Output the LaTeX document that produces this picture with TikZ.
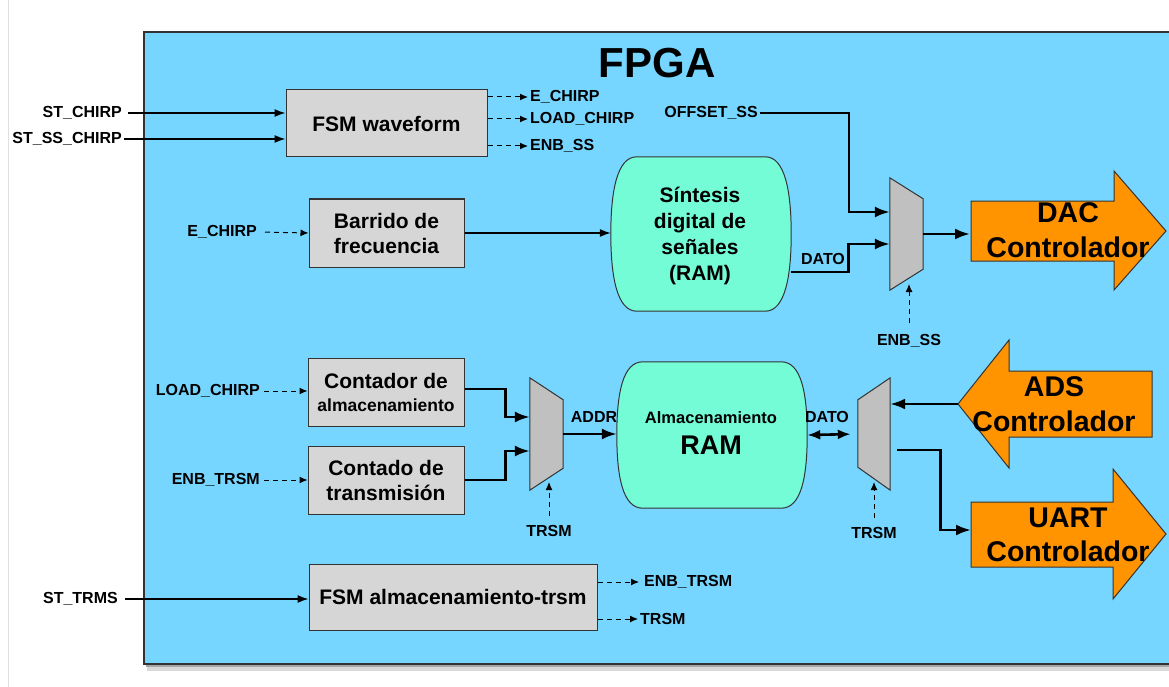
\documentclass[tikz,border=0pt]{standalone}
\usepackage{fontspec}
\setmainfont{Liberation Sans}
\usepackage{tikz}
\usetikzlibrary{positioning, calc, arrows.meta}
\definecolor{sky}{HTML}{76D6FF}
\definecolor{spindrift}{HTML}{73FCD6}
\definecolor{tangerine}{HTML}{FF9300}
\definecolor{boxgray}{HTML}{D6D6D6}
\definecolor{muxgray}{HTML}{C0C0C0}
\definecolor{edge}{HTML}{333333}
\tikzset{
  blk/.style={draw=edge, line width=1pt, fill=boxgray, minimum width=156, minimum height=68,
    align=center, font=\fontsize{21}{25}\selectfont\bfseries},
  lbl/.style={inner sep=2pt, font=\fontsize{16}{18}\selectfont\bfseries},
  sig/.style={-{Latex[length=11pt,width=8pt]}, line width=1.3pt},
  bus/.style={-{Latex[length=15pt,width=11pt]}, line width=2.6pt},
  ctl/.style={-{Latex[length=8pt,width=7pt]}, line width=1pt, dash pattern=on 5pt off 4pt},
  mux/.style={minimum width=33, minimum height=112, inner sep=0pt},
  muxbody/.style={draw=edge, line width=1pt, fill=muxgray},
  ram/.style={inner sep=0pt},
  bigarrow/.style={draw=edge, line width=1pt, fill=tangerine},
  ctrltext/.style={align=center, font=\fontsize{28.5}{34.5}\selectfont\bfseries}
}

\begin{document}
\begin{tikzpicture}[x=1pt, y=-1pt]
  \useasboundingbox (0,0) rectangle (1169,687);
  % marco FPGA
  \draw[black!12, line width=1pt] (8,0) -- (8,687);
  \fill[black!15] (147,38) rectangle (1175,671);
  \fill[black!35] (146,35) rectangle (1175,667);
  \draw[edge, line width=1.5pt, fill=sky] (144,32) rectangle (1175,664);
  \node[font=\fontsize{42}{48}\selectfont\bfseries] (fpga) at (657,63) {FPGA};

  % bloques
  \node[blk, minimum width=201, minimum height=67] (fsmw) at (386.5,123.5) {FSM waveform};
  \node[blk, minimum width=155] (barrido) at (386.5,233) {Barrido de\\frecuencia};
  \node[blk] (cont) at (386,392) {Contador de\\[-2pt]{\fontsize{17.5}{20}\selectfont almacenamiento}};
  \node[blk] (ctx) at (386,480) {Contado de\\transmisi\'on};
  \node[blk, minimum width=288, minimum height=66] (fsmt) at (453,597) {FSM almacenamiento-trsm};

  % memorias
  \node[ram, minimum width=180, minimum height=154] (sint) at (701,234) {};
  \node[ram, minimum width=190, minimum height=146] (alm) at (712,435) {};
  \foreach \n in {sint,alm}
    \draw[edge, line width=1pt, fill=spindrift]
      ($(\n.north west)+(26,0)$) -- ($(\n.north east)+(-26,0)$)
      .. controls ($(\n.north east)+(-6,0)$) and ($(\n.east)+(0,-42)$) .. (\n.east)
      .. controls ($(\n.east)+(0,42)$) and ($(\n.south east)+(-6,0)$) .. ($(\n.south east)+(-26,0)$)
      -- ($(\n.south west)+(26,0)$)
      .. controls ($(\n.south west)+(6,0)$) and ($(\n.west)+(0,42)$) .. (\n.west)
      .. controls ($(\n.west)+(0,-42)$) and ($(\n.north west)+(6,0)$) .. cycle;
  \node[align=center, font=\fontsize{21}{26}\selectfont\bfseries] (sinttxt) at (700,236)
    {S\'intesis\\digital de\\se\~nales\\(RAM)};
  \node[font=\fontsize{16.5}{18}\selectfont\bfseries] (almtop) at (711,418) {Almacenamiento};
  \node[font=\fontsize{27}{30}\selectfont\bfseries] (almram) at (711,445) {RAM};

  % multiplexores
  \node[mux] (m1) at (906.5,234) {};
  \draw[muxbody] (m1.north west) -- ($(m1.north east)+(0,21)$) -- ($(m1.south east)+(0,-21)$) -- (m1.south west) -- cycle;
  \node[mux] (m2) at (546.5,434) {};
  \draw[muxbody] (m2.north west) -- ($(m2.north east)+(0,22)$) -- ($(m2.south east)+(0,-22)$) -- (m2.south west) -- cycle;
  \node[mux, minimum width=32] (m3) at (874,434) {};
  \draw[muxbody] (m3.north east) -- (m3.south east) -- ($(m3.south west)+(0,-23)$) -- ($(m3.north west)+(0,22)$) -- cycle;

  % controladores
  \draw[bigarrow] (971,201) -- (1114,201) -- (1114,171) -- (1166,231) -- (1114,290) -- (1114,261) -- (971,261) -- cycle;
  \draw[bigarrow] (958,404) -- (1009,340) -- (1009,371) -- (1152,371) -- (1152,437) -- (1009,437) -- (1009,468) -- cycle;
  \draw[bigarrow] (971,502) -- (1113,502) -- (1113,469) -- (1166,534) -- (1113,599) -- (1113,567) -- (971,567) -- cycle;
  \node[ctrltext] (dac) at (1068,230) {DAC\\Controlador};
  \node[ctrltext] (ads) at (1054,404) {ADS\\Controlador};
  \node[ctrltext] (uart) at (1068,535) {UART\\Controlador};
  \coordinate (dacin) at (970,234);
  \coordinate (adstip) at (958,404);
  \coordinate (uartin) at (971,530);

  % etiquetas
  \node[lbl, anchor=east] (stchirp) at (124,113) {ST\_CHIRP};
  \node[lbl, anchor=east] (stss) at (124,139) {ST\_SS\_CHIRP};
  \node[lbl, anchor=west] (echirpo) at (528,97) {E\_CHIRP};
  \node[lbl, anchor=west] (loado) at (528,119) {LOAD\_CHIRP};
  \node[lbl, anchor=west] (enbsso) at (528,146) {ENB\_SS};
  \node[lbl, anchor=east] (offset) at (760,113) {OFFSET\_SS};
  \node[lbl, anchor=east] (echirpi) at (259,232) {E\_CHIRP};
  \node[lbl] (dato1) at (823,259) {DATO};
  \node[lbl] (enbssi) at (909,341) {ENB\_SS};
  \node[lbl, anchor=east] (loadi) at (262,391) {LOAD\_CHIRP};
  \node[lbl, anchor=east] (enbtrsmi) at (262,480) {ENB\_TRSM};
  \node[lbl] (addr) at (594,417) {ADDR};
  \node[lbl] (dato2) at (827,417) {DATO};
  \node[lbl] (trsmi2) at (549,531) {TRSM};
  \node[lbl] (trsmi3) at (874,533) {TRSM};
  \node[lbl, anchor=east] (sttrms) at (120,599) {ST\_TRMS};
  \node[lbl, anchor=west] (enbtrsmo) at (642,582) {ENB\_TRSM};
  \node[lbl, anchor=west] (trsmo) at (638,619) {TRSM};

  % conexiones
  \draw[sig, shorten <=4pt] (stchirp.east) -- (stchirp.east -| fsmw.west);
  \draw[sig] (stss.east) -- (stss.east -| fsmw.west);
  \draw[ctl] (fsmw.east |- echirpo.west) -- (echirpo.west);
  \draw[ctl] (fsmw.east |- loado.west) -- (loado.west);
  \draw[ctl] (fsmw.east |- enbsso.west) -- (enbsso.west);
  \draw[ctl, shorten <=6pt] (echirpi.east) -- (barrido.west);
  \draw[sig] (barrido.east) -- (barrido.east -| sint.west);
  \draw[bus] (offset.east) -| ($(m1.west)+(-41,-22)$) -- ($(m1.west)+(0,-22)$);
  \draw[bus] ($(sint.east)+(0,38)$) -- ++(57,0) |- ($(m1.west)+(0,10)$);
  \draw[bus] (m1.east) -- (dacin);
  \draw[ctl] ($(enbssi.north)+(0,-9)$) -- (909,284);

  \draw[ctl, shorten <=2pt] (loadi.east) -- (loadi.east -| cont.west);
  \draw[ctl, shorten <=2pt] (enbtrsmi.east) -- (enbtrsmi.east -| ctx.west);
  \draw[bus] ($(cont.east)+(0,-3)$) -- ++(41,0) |- ($(m2.west)+(0,-17)$);
  \draw[bus] (ctx.east) -- ++(41,0) |- ($(m2.west)+(0,17)$);
  \draw[bus] (m2.east) -- (m2.east -| alm.west);
  \draw[ctl] ($(trsmi2.north)+(0,-7)$) -- (549,482);
  \draw[{Latex[length=13pt,width=10pt]}-{Latex[length=13pt,width=10pt]}, line width=2.6pt, shorten >=7pt]
    (alm.east) -- (m3.west);
  \draw[bus] (adstip) -- (adstip -| m3.east);
  \draw[bus] ($(m3.east)+(7,16)$) -- ++(43,0) |- (uartin);
  \draw[ctl] ($(trsmi3.north)+(0,-7)$) -- (874,482);

  \draw[sig, shorten <=5pt] (sttrms.east) -- (sttrms.east -| fsmt.west);
  \draw[ctl] (fsmt.east |- enbtrsmo.west) -- ($(enbtrsmo.west)+(-3,0)$);
  \draw[ctl] (fsmt.east |- trsmo.west) -- (trsmo.west);
\end{tikzpicture}
\end{document}
